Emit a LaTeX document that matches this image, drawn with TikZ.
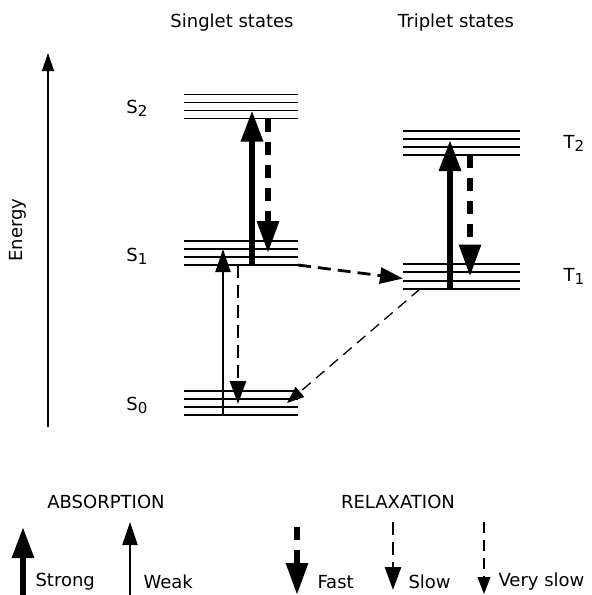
\documentclass[tikz,border=0pt]{standalone}
\usepackage{fontspec}
\setmainfont{DejaVu Sans}
\usetikzlibrary{arrows.meta,positioning,calc}
\newcommand{\lvl}[2]{#1\raisebox{-0.3ex}{\fontsize{15}{15}\selectfont #2}}

\begin{document}
\begin{tikzpicture}[x=1pt, y=-1pt,
  font=\fontsize{18}{21}\selectfont,
  node distance=33pt,
  band/.style={minimum height=24pt, minimum width=114pt, inner sep=0pt, outer sep=0pt},
  level/.style={line width=1.7pt},
  axis/.style={line width=1.3pt, -{Triangle[length=18pt, width=12pt]}},
  strong/.style={line width=6pt, -{Triangle[length=31pt, width=21pt]}},
  weak/.style={line width=2pt, -{Triangle[length=23pt, width=15pt]}},
  fast/.style={line width=6pt, dash pattern=on 13pt off 10pt, -{Triangle[length=32pt, width=21pt]}},
  slow/.style={line width=2.8pt, dash pattern=on 13pt off 7pt, -{Triangle[length=23pt, width=16pt]}},
  vslow/.style={line width=1.3pt, dash pattern=on 11pt off 7pt, -{Triangle[length=17pt, width=13pt]}}]
\useasboundingbox (0,0) rectangle (592,595);
\node[band] (S2) at (241,106.5) {};
\node[band] (S1) at (241,253) {};
\node[band] (S0) at (241,403) {};
\node[band, minimum width=117pt] (T2) at (461.5,143) {};
\node[band, minimum width=117pt, minimum height=25pt] (T1) at (461.5,276.5) {};
\foreach \b in {S2,S1,S0,T2,T1}
  \foreach \k in {0,...,3}
    \draw[level] ($(\b.north west)!\k/3!(\b.south west)$) -- ($(\b.north east)!\k/3!(\b.south east)$);
\node[left=of S2, yshift=-2pt] (S2lab) {\lvl{S}{2}};
\node[left=of S1, yshift=-3pt] (S1lab) {\lvl{S}{1}};
\node[left=of S0, yshift=-2pt] (S0lab) {\lvl{S}{0}};
\node[right=40pt of T2] (T2lab) {\lvl{T}{2}};
\node[right=40pt of T1] (T1lab) {\lvl{T}{1}};
\node (singlet) at (232,23) {Singlet states};
\node (triplet) at (456,23) {Triplet states};
\node[rotate=90] (energy) at (18,230) {Energy};
\coordinate (ax0) at (48,427);
\coordinate (ax1) at (48,53);
\draw[axis] (ax0) -- (ax1);
\draw[strong] ([xshift=11pt]S1.south) -- ([xshift=11pt,yshift=-4pt]S2.center);
\draw[fast] ([xshift=27pt]S2.south) -- ([xshift=27pt]S1.center);
\draw[weak] ([xshift=-18pt]S0.south) -- ([xshift=-18pt,yshift=4pt]S1.center);
\draw[slow] ([xshift=-3pt]S1.south) -- ([xshift=-3pt,yshift=-1pt]S0.center);
\draw[strong] ([xshift=-11.5pt]T1.south) -- ([xshift=-11.5pt,yshift=3pt]T2.center);
\draw[fast] ([xshift=8.5pt]T2.south) -- ([xshift=8.5pt]T1.center);
\draw[slow] (S1.south east) -- ([yshift=-2pt]T1.west);
\draw[vslow] ([xshift=17pt]T1.south west) -- ([xshift=-11pt]S0.east);
\node (absorb) at (106,502) {ABSORPTION};
\node (relax) at (398,502) {RELAXATION};
\node[anchor=west] (strongtxt) at (32,582) {Strong};
\node[anchor=west] (weaktxt) at (140,582) {Weak};
\node[anchor=west] (fasttxt) at (314,582) {Fast};
\node[anchor=west] (slowtxt) at (405,582) {Slow};
\node[anchor=west] (vslowtxt) at (495,582) {Very slow};
\coordinate (lgstrong) at (23,600);
\coordinate (lgweak) at (130,600);
\coordinate (lgfast) at (297,527);
\coordinate (lgslow) at (393,522);
\coordinate (lgvslow) at (484,522);
\draw[strong] (lgstrong) -- ++(0,-73);
\draw[weak] (lgweak) -- ++(0,-78);
\draw[fast] (lgfast) -- ++(0,68);
\draw[slow] (lgslow) -- ++(0,68);
\draw[vslow] (lgvslow) -- ++(0,72);
\end{tikzpicture}
\end{document}
